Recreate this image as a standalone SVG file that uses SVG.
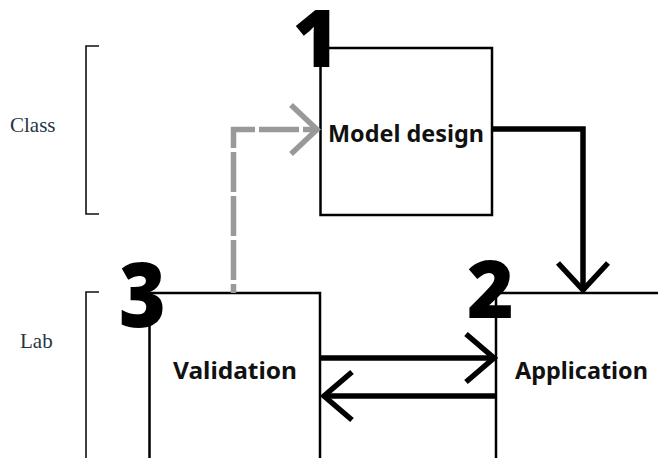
<svg xmlns="http://www.w3.org/2000/svg" width="658" height="458" viewBox="0 0 658 458">
  <style>
    .box { fill: #fff; stroke: #000; stroke-width: 2.5; }
    .label { font-family: "Noto Sans", "Open Sans", sans-serif; font-weight: 700; font-size: 24px; fill: #111; text-anchor: middle; }
    .num { font-family: "Noto Sans", "Open Sans", sans-serif; font-weight: 900; font-size: 80px; fill: #000; text-anchor: middle; }
    .phase { font-family: "Liberation Serif", "DejaVu Serif", serif; font-size: 21px; fill: #263545; }
    .bracket { fill: none; stroke: #111; stroke-width: 1.6; }
    .flow { fill: none; stroke: #000; stroke-width: 5.5; stroke-linejoin: miter; }
    .feedback { fill: none; stroke: #999; stroke-width: 5.5; }
  </style>

  <!-- phase brackets -->
  <g id="phase-class">
    <path class="bracket" d="M99 46 H86 V214 H99"/>
    <text class="phase" x="10" y="132">Class</text>
  </g>
  <g id="phase-lab">
    <path class="bracket" d="M99 292 H86 V470"/>
    <text class="phase" x="20" y="348">Lab</text>
  </g>

  <!-- step 1 -->
  <g id="model-design">
    <rect class="box" x="320.5" y="48" width="171.5" height="167"/>
    <text class="label" x="406" y="142" textLength="156" lengthAdjust="spacingAndGlyphs">Model design</text>
    <text class="num" x="316" y="67">1</text>
  </g>

  <!-- step 2 -->
  <g id="application">
    <rect class="box" x="496" y="293" width="171.5" height="180"/>
    <text class="label" x="581.5" y="379" textLength="133" lengthAdjust="spacingAndGlyphs">Application</text>
    <text class="num" x="490.5" y="318">2</text>
  </g>

  <!-- step 3 -->
  <g id="validation">
    <rect class="box" x="149.5" y="293" width="170.5" height="180"/>
    <text class="label" x="235" y="379" textLength="124" lengthAdjust="spacingAndGlyphs">Validation</text>
    <text class="num" x="142.5" y="325" transform="translate(0 -37) scale(1 1.12)">3</text>
  </g>

  <!-- connectors -->
  <g id="connectors">
    <!-- model design to application -->
    <path class="flow" d="M492 129 H583 V290"/>
    <path class="flow" d="M558 263 L583 290 L608 263"/>
    <!-- validation to application -->
    <path class="flow" d="M320 358 H494"/>
    <path class="flow" d="M466 334 L494 358 L466 382"/>
    <!-- application back to validation -->
    <path class="flow" d="M496 396 H324"/>
    <path class="flow" d="M352 372 L324 396 L352 420"/>
    <!-- validation feedback to model design -->
    <path class="feedback" d="M233.5 293 V129.5 H316" stroke-dasharray="40 4" stroke-dashoffset="31"/>
    <path class="feedback" d="M291 105 L317 129.5 L291 154"/>
  </g>
</svg>
